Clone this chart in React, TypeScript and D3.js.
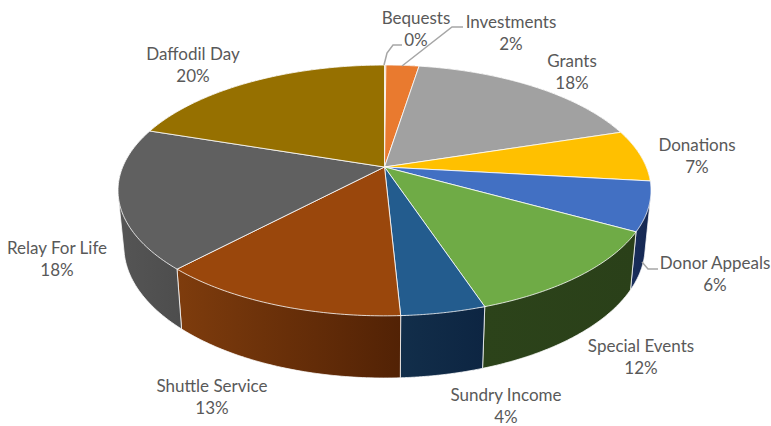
import React from "react";
import * as d3 from "d3";

const categories = ["Bequests", "Investments", "Grants", "Donations", "Donor Appeals", "Special Events", "Sundry Income", "Shuttle Service", "Relay For Life", "Daffodil Day"];
const values = [0.1, 2.4, 17.6, 6.7, 6.3, 11.8, 4.3, 12.8, 18.1, 19.9];
const percentLabels = ["0%", "2%", "18%", "7%", "6%", "12%", "4%", "13%", "18%", "20%"];
const topColors = ["#ED7D31", "#E97A2F", "#A1A1A1", "#FFC000", "#4270C3", "#6FAB46", "#235C8E", "#9A470C", "#606060", "#967000"];
const wallLeft = ["#8a4a1e", "#8a4a1e", "#5a5a5a", "#8a6a00", "#1a2f5c", "#2C431A", "#122E4A", "#7E3C0D", "#555555", "#5c4500"];
const wallRight = ["#8a4a1e", "#8a4a1e", "#5a5a5a", "#8a6a00", "#142650", "#2A4019", "#0D2542", "#522205", "#4D4D4D", "#5c4500"];

// label placement: centre x, first-line baseline
const labelPos: [number, number][] = [[416, 24], [511, 28], [572, 67], [697, 151], [715, 269], [641, 352], [506, 401], [212, 392], [57, 254], [193, 60]];
const leaderLines: Record<number, [number, number][]> = {
  0: [[384, 65], [387, 53], [393, 45], [402, 45]],
  1: [[402, 66], [452, 27], [463, 27]],
  4: [[642, 262], [648, 269], [658, 269]],
};

const W = 771, H = 426;
const cx = 384.5, cy = 167, a = 121, b = 261.8, p = 0.187;
const project = (t: number): [number, number] => {
  const w = 1 + p * Math.cos(t);
  return [cx + (b * Math.sin(t)) / w, cy - (a * Math.cos(t)) / w];
};
const projectBottom = (t: number): [number, number] => {
  const [x, y] = project(t);
  return [cx + (x - cx) * 0.978, y + 58 + 0.05 * (y - 232)];
};

const pieGen = d3.pie<number>().sort(null).startAngle(0).endAngle(2 * Math.PI);
const line = d3.line();
const samples = (s: number, e: number) => d3.range(0, 61).map((i) => d3.interpolateNumber(s, e)(i / 60));

export default function App() {
  const arcs = pieGen(values);
  const lineH = 21.5;
  return (
    <svg width={W} height={H} style={{ position: "absolute", left: 0, top: 0, background: "#fff" }}>
      <defs>
        {arcs.map((_, i) => (
          <linearGradient key={i} id={`w${i}`} x1="0" x2="1" y1="0" y2="0">
            <stop offset="0" stopColor={wallLeft[i]} />
            <stop offset="1" stopColor={wallRight[i]} />
          </linearGradient>
        ))}
      </defs>
      {/* walls */}
      {arcs.map((d, i) => {
        const ts = samples(d.startAngle, d.endAngle);
        const hull = d3.polygonHull([...ts.map(project), ...ts.map(projectBottom)]) as [number, number][];
        return <path key={i} d={line(hull) + "Z"} fill={`url(#w${i})`} stroke="#fff" strokeOpacity={0.75} strokeWidth={1} />;
      })}
      {/* top faces */}
      {arcs.map((d, i) => {
        const pts: [number, number][] = [[cx, cy], ...samples(d.startAngle, d.endAngle).map(project)];
        return <path key={i} d={line(pts) + "Z"} fill={topColors[i]} stroke="#fff" strokeOpacity={0.8} strokeWidth={1} strokeLinejoin="round" />;
      })}
      {/* leader lines */}
      {Object.entries(leaderLines).map(([k, pts]) => (
        <path key={k} d={line(pts) as string} fill="none" stroke="#A6A6A6" strokeWidth={1.5} />
      ))}
      {/* labels */}
      {categories.map((c, i) => (
        <text key={c} x={labelPos[i][0]} y={labelPos[i][1]} textAnchor="middle" fontFamily="Lato, 'Open Sans', sans-serif" fontSize={17} fill="#595959">
          <tspan x={labelPos[i][0]}>{c}</tspan>
          <tspan x={labelPos[i][0]} dy={lineH}>{percentLabels[i]}</tspan>
        </text>
      ))}
    </svg>
  );
}
